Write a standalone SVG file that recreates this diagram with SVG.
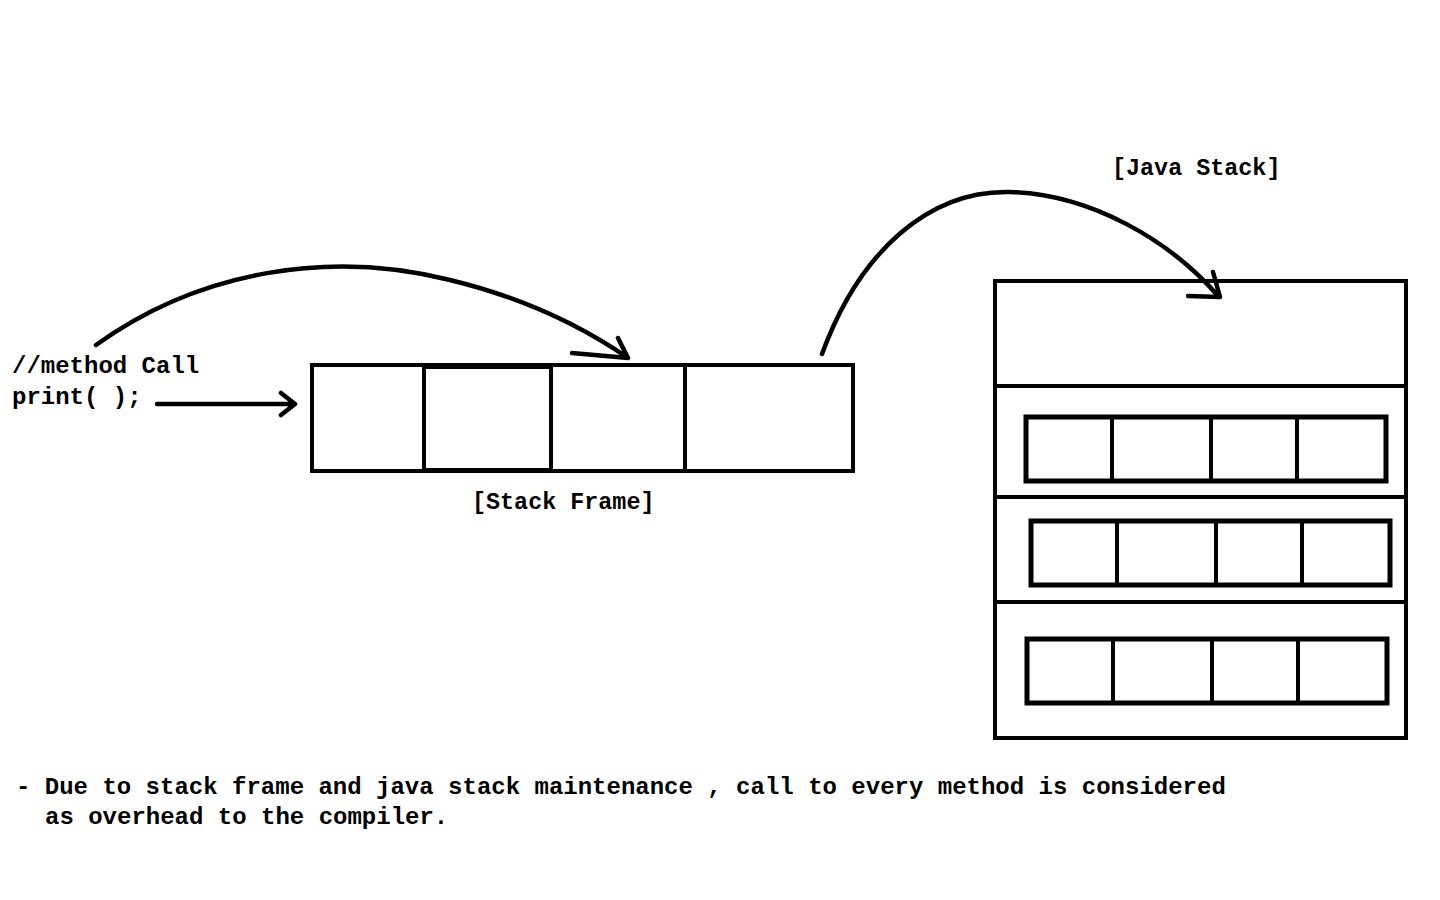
<svg xmlns="http://www.w3.org/2000/svg" width="1440" height="900" viewBox="0 0 1440 900">
<style>
.t{font-family:"Liberation Mono","Courier New",monospace;font-weight:bold;font-size:24px;fill:#000}
.s{font-size:23.4px}
.b{fill:none;stroke:#000;stroke-width:4}
.r{fill:none;stroke:#000;stroke-width:5}
.c{fill:none;stroke:#000;stroke-width:4.5;stroke-linecap:round;stroke-linejoin:round}
</style>
<rect width="1440" height="900" fill="#fff"/>
<g id="call-label">
<text class="t" x="12" y="373">//method Call</text>
<text class="t" x="12" y="404">print( );</text>
</g>
<g id="stack-frame">
<rect class="b" x="312" y="365" width="541" height="106"/>
<rect class="b" x="424" y="367" width="127" height="103"/>
<line class="b" x1="685" y1="365" x2="685" y2="471"/>
<text class="t s" x="472" y="509">[Stack Frame]</text>
</g>
<g id="java-stack">
<rect class="b" x="995" y="281" width="411" height="457"/>
<line class="b" x1="995" y1="386" x2="1406" y2="386"/>
<line class="b" x1="995" y1="497" x2="1406" y2="497"/>
<line class="b" x1="995" y1="602" x2="1406" y2="602"/>
<g id="frame-1">
<rect class="r" x="1026" y="417" width="360" height="64"/>
<line class="b" x1="1112" y1="417" x2="1112" y2="481"/>
<line class="b" x1="1211" y1="417" x2="1211" y2="481"/>
<line class="b" x1="1297" y1="417" x2="1297" y2="481"/>
</g>
<g id="frame-2">
<rect class="r" x="1031" y="521" width="359" height="64"/>
<line class="b" x1="1117" y1="521" x2="1117" y2="585"/>
<line class="b" x1="1216" y1="521" x2="1216" y2="585"/>
<line class="b" x1="1302" y1="521" x2="1302" y2="585"/>
</g>
<g id="frame-3">
<rect class="r" x="1027" y="639" width="360" height="64"/>
<line class="b" x1="1113" y1="639" x2="1113" y2="703"/>
<line class="b" x1="1212" y1="639" x2="1212" y2="703"/>
<line class="b" x1="1298" y1="639" x2="1298" y2="703"/>
</g>
<text class="t s" x="1112" y="175">[Java Stack]</text>
</g>
<g id="connectors">
<path class="c" d="M157,404 L295,404 M281,393 L295,404 L281,415"/>
<path class="c" d="M96,345 C200,270 330,250 450,280 C520,297 580,325 628,358 M572,353 L628,358 L618,338"/>
<path class="c" d="M822,354 C860,250 930,190 1010,192 C1090,194 1170,240 1219,297 M1188,296 L1220,297 L1213,272"/>
</g>
<g id="note">
<text class="t" x="16" y="794">- Due to stack frame and java stack maintenance , call to every method is considered</text>
<text class="t" x="45" y="824">as overhead to the compiler.</text>
</g>
</svg>
